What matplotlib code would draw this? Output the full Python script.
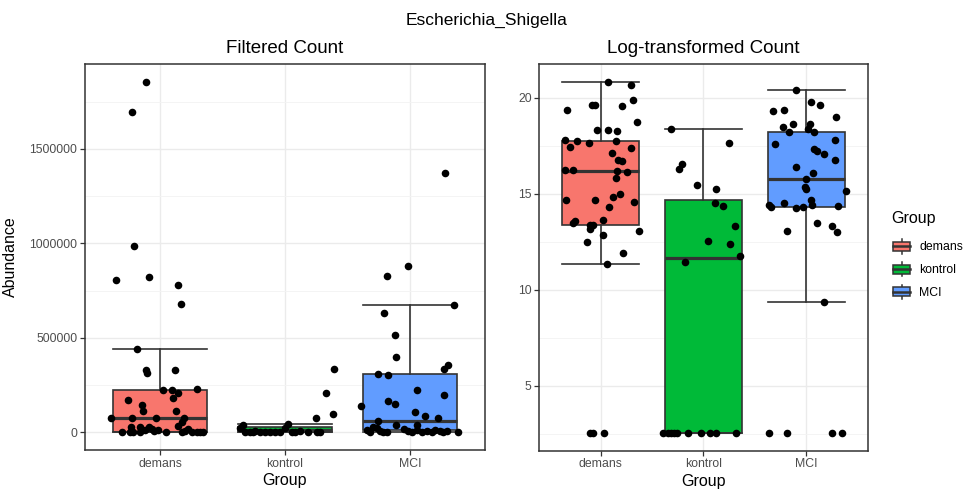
import numpy as np
import matplotlib
matplotlib.use('Agg')
import matplotlib.pyplot as plt
from matplotlib.ticker import AutoMinorLocator
from matplotlib.legend_handler import HandlerBase
from matplotlib.lines import Line2D
from matplotlib.patches import Rectangle, Patch

plt.rcParams['font.family'] = ['Liberation Sans', 'DejaVu Sans']

# groups and colours
groups = ['demans', 'kontrol', 'MCI']
colors = ['#F8766D', '#00BA38', '#619CFF']

# Filtered count: values and jitter offsets
filt_demans = [1856000, 1695000, 985000, 805000, 820000, 780000, 681000,
               443000, 328000, 316000, 332000, 223000, 223000, 211000, 228000,
               183000, 174000, 144000, 114000, 114000, 77000, 77000, 74000,
               74000, 56000, 33000, 30000, 30000, 30000, 4000, 0, 4000, 18000,
               12000, 4000, 18000, 4000, 0, 4000, 2000, 8000, 3000, 10000,
               15000, 1000]
filt_demans_dx = [-0.112, -0.221, -0.208, -0.355, -0.085, 0.147, 0.168,
                  -0.187, -0.112, -0.107, 0.12, 0.027, 0.093, 0.147, 0.293,
                  0.107, -0.253, -0.147, -0.139, 0.128, -0.395, -0.221, -0.032,
                  0.195, 0.173, 0.147, -0.232, -0.16, -0.085, -0.24, -0.213, -0.16,
                  -0.067, -0.013, 0.173, 0.227, 0.253, 0.293, 0.347, -0.3, -0.05,
                  0.05, 0.2, -0.12, 0.32]
filt_kontrol = [337000, 209000, 97000, 79000, 42000, 47000,
                22000, 5000, 0, 10000, 0, 0, 3000, 0, 21000, 0, 6000, 0, 0,
                3000, 2000, 1000, 5000]
filt_kontrol_dx = [0.395, 0.328, 0.387, 0.248, -0.339, 0.021,
                   -0.36, -0.32, -0.254, -0.24, -0.16, -0.12, -0.08, -0.04, 0.0,
                   0.054, 0.12, 0.254, 0.28, -0.2, 0.08, 0.18, -0.28]
filt_mci = [1370000, 878000, 826000, 676000, 634000, 513000, 399000, 337000,
            358000, 309000, 302000, 227000, 197000, 165000, 153000, 141000,
            109000, 86000, 74000, 60000, 42000, 38000,
            12000, 2000, 25000, 8000, 5000, 3000, 10000, 0, 15000, 6000, 4000,
            9000, 1000, 5000, 20000, 3000, 14000, 30000, 7000]
filt_mci_dx = [0.28, -0.013, -0.187, 0.355, -0.208, -0.12, -0.115, 0.275,
               0.307, -0.259, -0.173, 0.059, 0.272, -0.173, -0.12, -0.392,
               0.04, 0.12, 0.227, -0.253, -0.112, 0.053,
               -0.347, -0.32, -0.267, -0.24, -0.213, -0.187, -0.013, 0.013, 0.053,
               0.133, 0.173, 0.24, 0.267, 0.387, -0.05, 0.1, 0.2, -0.3, 0.3]

# Log-transformed count
log_demans = [20.83, 20.67, 19.9, 19.38, 19.64, 19.6, 19.57, 18.76, 18.33, 18.33,
              18.25, 17.82, 17.77, 17.67, 17.74, 17.46, 17.41, 17.15, 16.77, 16.7,
              16.22, 16.22, 16.18, 16.15, 15.84, 14.97, 14.84, 14.66, 14.66, 14.58,
              14.32, 13.66, 13.59, 13.49, 13.37, 13.37, 13.15, 13.07, 12.85, 12.5,
              11.93, 11.33, 2.54, 2.54, 2.54]
log_demans_dx = [0.068, 0.295, 0.31, -0.33, -0.088, -0.056, 0.204, 0.353, -0.04, 0.065,
                 0.156, -0.354, -0.234, -0.12, 0.149, -0.3, 0.292, 0.107, 0.171, 0.204,
                 -0.348, -0.267, 0.156, 0.259, 0.146, 0.188, 0.117, -0.341, -0.062, 0.327,
                 0.084, 0.025, -0.257, -0.267, -0.104, -0.072, -0.104, 0.373, 0.025, -0.136,
                 0.214, 0.058, -0.104, -0.072, 0.032]
log_kontrol = [18.36, 17.67, 16.56, 16.29, 15.46, 15.25, 14.52, 14.39, 13.3, 12.52,
               12.4, 11.78, 11.47, 2.54, 2.54, 2.54, 2.54, 2.54, 2.54, 2.54, 2.54,
               2.54, 2.54]
log_kontrol_dx = [-0.317, 0.253, -0.21, -0.237, -0.061, 0.121, 0.114, 0.189, 0.309, 0.043,
                  0.263, 0.36, -0.181, -0.395, -0.35, -0.317, -0.285, -0.259, -0.152,
                  -0.022, 0.066, 0.121, 0.316]
log_mci = [20.4, 19.79, 19.65, 19.29, 19.38, 18.98, 18.46, 18.64, 18.2, 18.64,
           18.38, 18.24, 17.81, 17.6, 17.34, 17.25, 17.08, 16.74, 16.39, 16.1,
           15.79, 15.34, 15.23, 15.13, 14.66, 14.44, 14.32, 14.52, 14.26, 14.32,
           14.4, 14.37, 13.46, 13.34, 13.02, 13.06, 9.38, 2.54, 2.54, 2.54, 2.54]
log_mci_dx = [-0.097, 0.049, 0.136, -0.324, -0.214, 0.292, -0.221, -0.13, -0.162, 0.039,
              0.023, 0.081, 0.286, -0.302, 0.081, 0.104, 0.178, 0.286, -0.097, 0.071,
              -0.003, -0.01, 0.0, 0.387, 0.049, -0.357, -0.34, -0.214, -0.097, -0.026,
              0.061, 0.314, 0.104, 0.256, 0.299, -0.182, 0.172, -0.357, -0.182, 0.256,
              0.353]

# box statistics: whisker low, q1, median, q3, whisker high
filt_box = {'whislo': [0, 0, 0],
            'q1': [3500, 0, 12000],
            'med': [74000, 12000, 62000],
            'q3': [227000, 27000, 310000],
            'whishi': [443000, 45000, 675000]}
log_box = {'whislo': [11.35, 2.54, 9.38],
           'q1': [13.40, 2.54, 14.32],
           'med': [16.18, 11.66, 15.79],
           'q3': [17.77, 14.70, 18.20],
           'whishi': [20.83, 18.36, 20.40]}

filt_ticks = [0, 500000, 1000000, 1500000]
log_ticks = [5, 10, 15, 20]

EDGE = '#333333'


def draw_panel(ax, box, values, offsets, ticks, title):
    stats = []
    for i in range(3):
        stats.append({k: box[k][i] for k in box})
    bp = ax.bxp(stats, positions=[1, 2, 3], widths=0.75, capwidths=0.75,
                patch_artist=True, showfliers=False,
                boxprops=dict(edgecolor=EDGE, linewidth=1.2),
                whiskerprops=dict(color=EDGE, linewidth=1.2),
                capprops=dict(color=EDGE, linewidth=1.2),
                medianprops=dict(color=EDGE, linewidth=2.3), zorder=2)
    for patch, c in zip(bp['boxes'], colors):
        patch.set_facecolor(c)
    for i, (v, d) in enumerate(zip(values, offsets)):
        ax.scatter(i + 1 + np.array(d), v, s=30, color='black', zorder=3,
                   linewidths=0)
    allv = np.concatenate([np.array(v, float) for v in values])
    pad = 0.05 * (allv.max() - allv.min())
    ax.set_ylim(allv.min() - pad, allv.max() + pad)
    ax.set_xlim(0.4, 3.6)
    ax.set_xticks([1, 2, 3])
    ax.set_xticklabels(groups)
    ax.set_yticks(ticks)
    ax.set_yticklabels([str(t) for t in ticks])
    ax.yaxis.set_minor_locator(AutoMinorLocator(2))
    ax.tick_params(which='minor', length=0)
    ax.tick_params(which='major', direction='out', length=3.5, width=0.9,
                   color=EDGE, labelcolor='#4D4D4D', labelsize=8.8, pad=2)
    ax.grid(which='major', color='#EBEBEB', linewidth=1.0, zorder=0)
    ax.grid(which='minor', axis='y', color='#F3F3F3', linewidth=0.6, zorder=0)
    ax.set_axisbelow(True)
    for sp in ax.spines.values():
        sp.set_color(EDGE)
        sp.set_linewidth(1.1)
    ax.set_title(title, fontsize=13.5, pad=8)
    ax.set_xlabel('Group', fontsize=11.5)
    ax.xaxis.set_label_coords(0.5, -(481 - 450) / 386)
    ax.xaxis.label.set_va('center')


class BoxKey(HandlerBase):
    def create_artists(self, legend, orig_handle, xdescent, ydescent,
                       width, height, fontsize, trans):
        x0, y0 = -xdescent, -ydescent
        cx = x0 + width / 2
        fc = orig_handle.get_facecolor()
        arts = [
            Line2D([cx, cx], [y0 + 0.1 * height, y0 + 0.25 * height], color=EDGE, lw=1.1),
            Line2D([cx, cx], [y0 + 0.75 * height, y0 + 0.9 * height], color=EDGE, lw=1.1),
            Rectangle((x0 + 0.1 * width, y0 + 0.25 * height), 0.8 * width, 0.5 * height,
                      facecolor=fc, edgecolor=EDGE, lw=1.1),
            Line2D([x0 + 0.1 * width, x0 + 0.9 * width], [y0 + 0.5 * height] * 2,
                   color=EDGE, lw=1.8),
        ]
        for a in arts:
            a.set_transform(trans)
        return arts


fig = plt.figure(figsize=(9.7, 4.93), dpi=100)
ax1 = fig.add_axes([85 / 970, 43 / 493, 400 / 970, 386 / 493])
ax2 = fig.add_axes([539.3 / 970, 42.3 / 493, 328.4 / 970, 386.4 / 493])

draw_panel(ax1, filt_box, [filt_demans, filt_kontrol, filt_mci],
           [filt_demans_dx, filt_kontrol_dx, filt_mci_dx], filt_ticks, 'Filtered Count')
draw_panel(ax2, log_box, [log_demans, log_kontrol, log_mci],
           [log_demans_dx, log_kontrol_dx, log_mci_dx], log_ticks, 'Log-transformed Count')

ax1.set_ylabel('Abundance', fontsize=11.5)
ax1.yaxis.set_label_coords(-(85 - 18) / 400, 0.5)

fig.suptitle('Escherichia_Shigella', x=0.502, y=1 - 20 / 493, va='center', fontsize=12.5)

handles = [Patch(facecolor=c) for c in colors]
leg = fig.legend(handles, groups, handler_map={Patch: BoxKey()}, loc='upper left',
                 bbox_to_anchor=(873 / 970, 1 - 193 / 493), frameon=False,
                 title='Group', title_fontsize=11.5, fontsize=8.8, alignment='left',
                 handlelength=1.7, handleheight=1.9, labelspacing=0.38,
                 handletextpad=0.6, borderpad=1.0)
leg._legend_box.sep = 8.0  # more room between title and keys, like ggplot

fig.savefig('out.png', dpi=100)
